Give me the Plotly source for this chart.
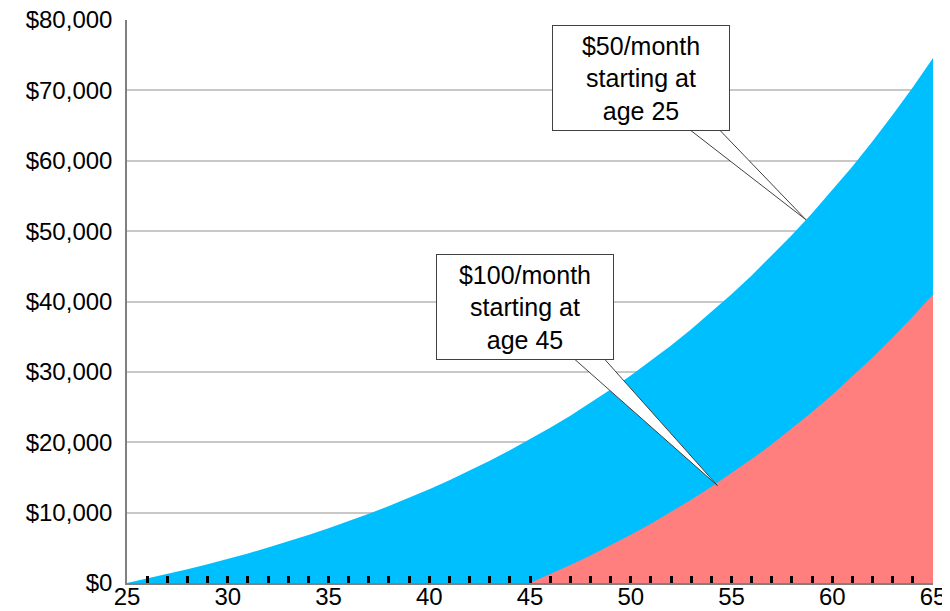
import numpy as np
import plotly.graph_objects as go

# Ages and account values
ages_early = list(range(25, 66))
value_early = [0, 620, 1270, 1950, 2660, 3410, 4200, 5030, 5900, 6810,
               7770, 8770, 9830, 10940, 12100, 13330, 14610, 15960, 17370, 18860,
               20420, 22060, 23780, 25590, 27480, 29470, 31570, 33760, 36070, 38490,
               41030, 43700, 46500, 49440, 52530, 55780, 59180, 62760, 66520, 70460,
               74600]

ages_late = list(range(45, 66))
value_late = [0, 1240, 2540, 3910, 5340, 6850, 8430, 10090, 11840, 13670,
              15590, 17610, 19730, 21960, 24290, 26750, 29330, 32040, 34880, 37860,
              41000]

label_early = "$50/month<br>starting at<br>age 25"
label_late = "$100/month<br>starting at<br>age 45"

y_ticks = list(range(0, 80001, 10000))
x_ticks = list(range(25, 66))
x_ticktext = [str(v) if v % 5 == 0 else "" for v in x_ticks]

BLUE = "#00BFFF"
RED = "#FF7F7F"
FONT = "Liberation Sans, Arial, sans-serif"

fig = go.Figure()
fig.add_trace(go.Scatter(x=ages_early, y=value_early, mode="lines", fill="tozeroy",
                         line=dict(color=BLUE, width=0), fillcolor=BLUE,
                         showlegend=False, hoverinfo="x+y"))
fig.add_trace(go.Scatter(x=ages_late, y=value_late, mode="lines", fill="tozeroy",
                         line=dict(color=RED, width=0), fillcolor=RED,
                         showlegend=False, hoverinfo="x+y"))

# Callouts: tip anchored on the data curves
tip1_x = 58.7
tip1_y = float(np.interp(tip1_x, ages_early, value_early))
tip2_x = 54.3
tip2_y = float(np.interp(tip2_x, ages_late, value_late)) - 400

callouts = [
    dict(text=label_early, cx=50.5, cy=71700, base=(52.44, 54.03), base_y=65500,
         tip=(tip1_x, tip1_y)),
    dict(text=label_late, cx=44.75, cy=39280, base=(46.74, 48.33), base_y=33000,
         tip=(tip2_x, tip2_y)),
]

shapes = []
annotations = []
for c in callouts:
    bx0, bx1 = c["base"]
    tx, ty = c["tip"]
    shapes.append(dict(type="path", xref="x", yref="y", layer="above",
                       path=f"M {bx0},{c['base_y']} L {tx},{ty} L {bx1},{c['base_y']} Z",
                       fillcolor="white", line=dict(color="#404040", width=1)))
    annotations.append(dict(x=c["cx"], y=c["cy"], xref="x", yref="y", text=c["text"],
                            showarrow=False, bgcolor="white", bordercolor="#404040",
                            borderwidth=1, borderpad=0, width=176, height=104,
                            align="center", valign="middle",
                            font=dict(family=FONT, size=25, color="black")))

fig.update_layout(
    width=942, height=603,
    margin=dict(l=119, r=17, t=12, b=28),
    paper_bgcolor="white", plot_bgcolor="white",
    shapes=shapes, annotations=annotations,
    font=dict(family=FONT, size=22, color="black"),
    xaxis=dict(range=[25, 65], tickmode="array", tickvals=x_ticks,
               ticktext=x_ticktext, showgrid=False,
               showline=True, linecolor="#808080", linewidth=1.5,
               ticks="inside", ticklen=7, tickwidth=2.5, tickcolor="black",
               layer="above traces", zeroline=False, automargin=False,
               ticklabeloverflow="allow", ticklabelstandoff=-9,
               tickfont=dict(family=FONT, size=24, color="black")),
    yaxis=dict(range=[0, 80000], tickmode="array", tickvals=y_ticks,
               ticktext=["${:,}".format(v) for v in y_ticks],
               showgrid=True, gridcolor="#C8C8C8", gridwidth=1.5,
               showline=True, linecolor="#808080", linewidth=1.5,
               ticks="", zeroline=False, layer="above traces", automargin=False,
               ticklabeloverflow="allow", ticklabelstandoff=8,
               tickfont=dict(family=FONT, size=24, color="black")),
)

fig.write_html("out.html")
